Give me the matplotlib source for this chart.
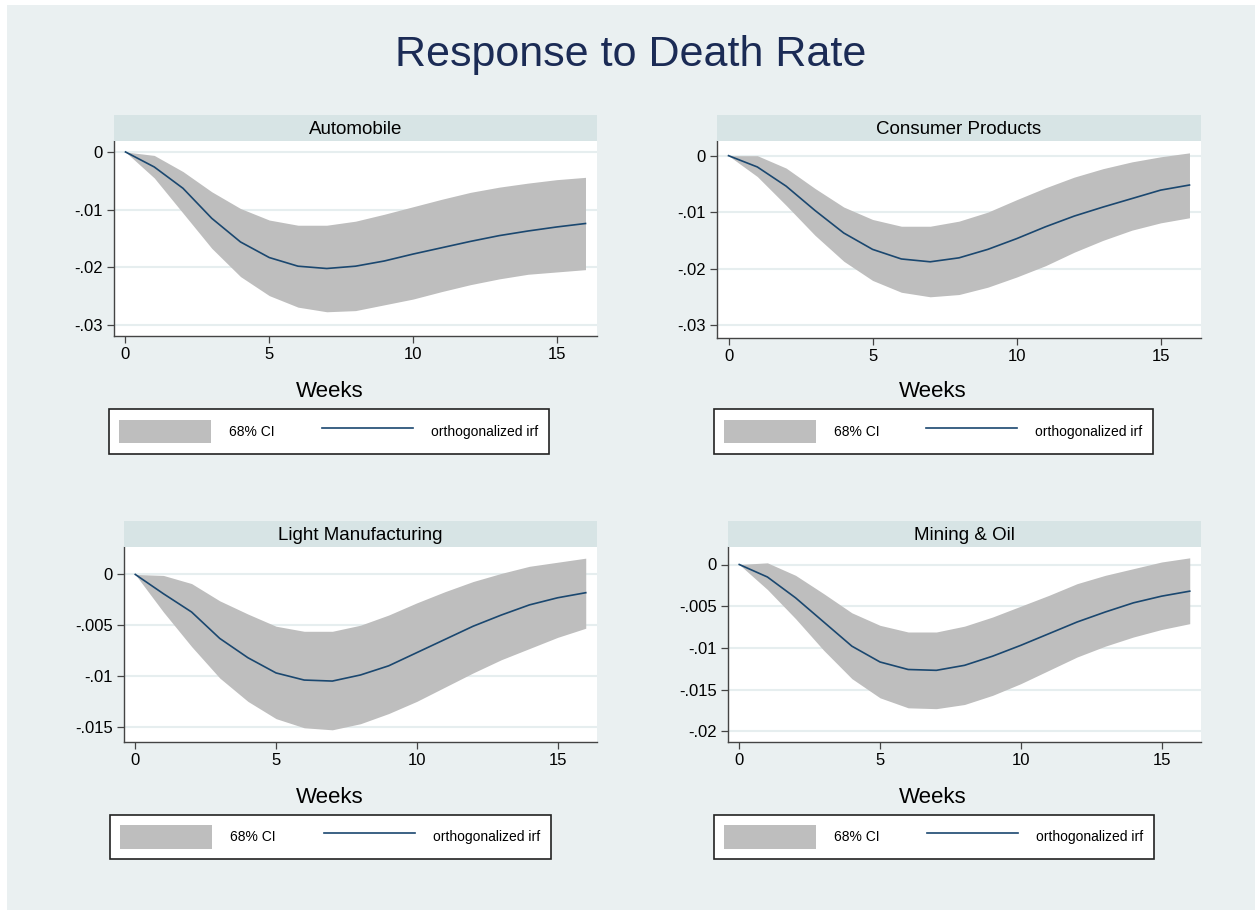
import matplotlib
matplotlib.use("Agg")
import matplotlib.pyplot as plt
from matplotlib.patches import Patch, Rectangle
from matplotlib.lines import Line2D

plt.rcParams['font.family'] = ['Liberation Sans', 'DejaVu Sans']

# IRF data (weeks 0..16)
weeks = list(range(17))

auto_irf = [0, -0.0026, -0.0063, -0.0115, -0.0156, -0.0183, -0.0198, -0.0202, -0.0198,
            -0.0189, -0.0177, -0.0166, -0.0155, -0.0145, -0.0137, -0.0130, -0.0124]
auto_hi = [0, -0.0006, -0.0034, -0.0069, -0.0098, -0.0118, -0.0127, -0.0127, -0.0120,
           -0.0108, -0.0095, -0.0082, -0.0070, -0.0061, -0.0054, -0.0048, -0.0044]
auto_lo = [0, -0.0045, -0.0106, -0.0167, -0.0216, -0.0249, -0.0269, -0.0277, -0.0275,
           -0.0265, -0.0255, -0.0242, -0.0230, -0.0220, -0.0212, -0.0208, -0.0204]

cons_irf = [0, -0.0020, -0.0054, -0.0097, -0.0137, -0.0166, -0.0183, -0.0188, -0.0181,
            -0.0166, -0.0147, -0.0126, -0.0107, -0.0091, -0.0076, -0.0061, -0.0052]
cons_hi = [0, 0.0000, -0.0022, -0.0058, -0.0091, -0.0113, -0.0125, -0.0125, -0.0116,
           -0.0100, -0.0078, -0.0057, -0.0038, -0.0023, -0.0011, -0.0002, 0.0005]
cons_lo = [0, -0.0037, -0.0088, -0.0141, -0.0187, -0.0221, -0.0242, -0.0250, -0.0246,
           -0.0233, -0.0215, -0.0195, -0.0171, -0.0150, -0.0132, -0.0119, -0.0110]

light_irf = [0, -0.0019, -0.0037, -0.0063, -0.0082, -0.0097, -0.0104, -0.0105, -0.0099,
             -0.0090, -0.0077, -0.0064, -0.0051, -0.0040, -0.0030, -0.0023, -0.0018]
light_hi = [0, -0.0001, -0.0009, -0.0026, -0.0039, -0.0051, -0.0056, -0.0056, -0.0050,
            -0.0040, -0.0028, -0.0017, -0.0007, 0.0001, 0.0008, 0.0012, 0.0016]
light_lo = [0, -0.0037, -0.0071, -0.0102, -0.0125, -0.0142, -0.0151, -0.0153, -0.0147,
            -0.0137, -0.0125, -0.0111, -0.0097, -0.0084, -0.0073, -0.0062, -0.0053]

mining_irf = [0, -0.0015, -0.0040, -0.0069, -0.0098, -0.0117, -0.0126, -0.0127, -0.0121,
              -0.0110, -0.0097, -0.0083, -0.0069, -0.0057, -0.0046, -0.0038, -0.0032]
mining_hi = [0, 0.0002, -0.0013, -0.0035, -0.0058, -0.0073, -0.0081, -0.0081, -0.0074,
             -0.0063, -0.0050, -0.0037, -0.0023, -0.0013, -0.0005, 0.0003, 0.0008]
mining_lo = [0, -0.0030, -0.0065, -0.0103, -0.0137, -0.0160, -0.0172, -0.0173, -0.0168,
             -0.0157, -0.0143, -0.0127, -0.0111, -0.0098, -0.0087, -0.0078, -0.0071]

titles = ["Automobile", "Consumer Products", "Light Manufacturing", "Mining & Oil"]
irfs = [auto_irf, cons_irf, light_irf, mining_irf]
his = [auto_hi, cons_hi, light_hi, mining_hi]
los = [auto_lo, cons_lo, light_lo, mining_lo]
yticks = [[0, -0.01, -0.02, -0.03],
          [0, -0.01, -0.02, -0.03],
          [0, -0.005, -0.01, -0.015],
          [0, -0.005, -0.01, -0.015, -0.02]]
ylims = [(-0.0319, 0.0019), (-0.0323, 0.0026), (-0.0165, 0.0027), (-0.0213, 0.0021)]

BG = "#EAF0F1"
STRIP = "#D7E4E5"
GRID = "#E6EEEF"
BAND = "#BEBEBE"
NAVY = "#1A476F"

W, H = 1255, 910
fig = plt.figure(figsize=(W / 100, H / 100), dpi=100, facecolor="white")


def frac(x0, y0, x1, y1):
    return [x0 / W, 1 - y1 / H, (x1 - x0) / W, (y1 - y0) / H]


def stata_fmt(v):
    if v == 0:
        return "0"
    return ("%g" % v).replace("0.", ".")


fig.patches.append(Rectangle((7 / W, 0), 1 - 7 / W, 1 - 5 / H, transform=fig.transFigure,
                             facecolor=BG, edgecolor="none", zorder=-10))

fig.text(631 / W, 1 - 66 / H, "Response to Death Rate", ha="center", va="baseline",
         fontsize=31, color="#1B2B55")

# pixel boxes: plot area, strip, "Weeks" (x, baseline), legend box
plot_boxes = [(114, 141, 597, 336), (717, 141, 1201, 338),
              (124, 547, 597, 742), (728, 547, 1201, 742)]
strip_boxes = [(114, 115, 597, 141), (717, 115, 1201, 141),
               (124, 521, 597, 547), (728, 521, 1201, 547)]
weeks_pos = [(330, 397), (933, 397), (330, 803), (933, 803)]
legend_boxes = [(109, 409, 549, 454), (714, 409, 1153, 454),
                (110, 815, 551, 859), (714, 815, 1154, 859)]

for i in range(4):
    ax = fig.add_axes(frac(*plot_boxes[i]))
    ax.set_facecolor("white")
    ax.fill_between(weeks, los[i], his[i], color=BAND, linewidth=0, zorder=2)
    ax.plot(weeks, irfs[i], color=NAVY, linewidth=1.2, zorder=3)
    ax.set_xlim(-0.4, 16.4)
    ax.set_ylim(*ylims[i])
    ax.set_xticks([0, 5, 10, 15])
    ax.set_yticks(yticks[i])
    ax.set_yticklabels([stata_fmt(v) for v in yticks[i]])
    ax.yaxis.grid(True, color=GRID, linewidth=1.5, zorder=1)
    ax.set_axisbelow(True)
    for s in ["top", "right"]:
        ax.spines[s].set_visible(False)
    for s in ["left", "bottom"]:
        ax.spines[s].set_color("#444444")
        ax.spines[s].set_linewidth(1.0)
    ax.tick_params(direction="out", length=5, width=0.9, color="#444444",
                   labelsize=12, pad=3)

    sx = fig.add_axes(frac(*strip_boxes[i]))
    sx.set_facecolor(STRIP)
    sx.set_xticks([])
    sx.set_yticks([])
    for s in sx.spines.values():
        s.set_visible(False)
    x0, y0, x1, y1 = strip_boxes[i]
    fig.text((x0 + x1) / 2 / W, 1 - (y1 - 7) / H, titles[i], ha="center", va="baseline",
             fontsize=13.5, color="black")

    wx, wy = weeks_pos[i]
    fig.text(wx / W, 1 - wy / H, "Weeks", ha="center", va="baseline", fontsize=16)

    lx0, ly0, lx1, ly1 = legend_boxes[i]
    handles = [Patch(facecolor=BAND, edgecolor="none", label="68% CI"),
               Line2D([], [], color=NAVY, linewidth=1.2, label="orthogonalized irf")]
    leg = fig.legend(handles=handles, loc="center", ncol=2, mode="expand",
                     bbox_to_anchor=(lx0 / W, 1 - ly1 / H, (lx1 - lx0) / W, (ly1 - ly0) / H),
                     bbox_transform=fig.transFigure, fontsize=10, frameon=True,
                     fancybox=False, handlelength=6.6, handleheight=2.2,
                     handletextpad=1.3, borderpad=0.75, borderaxespad=0)
    fr = leg.get_frame()
    fr.set_edgecolor("#222222")
    fr.set_linewidth(1.2)
    fr.set_facecolor("white")
    fr.set_alpha(1)

fig.savefig("out.png", dpi=100, facecolor="white")
